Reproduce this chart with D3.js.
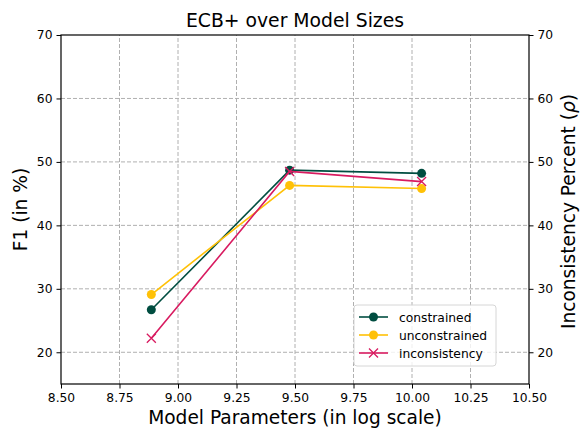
<!DOCTYPE html>
<html>
<head>
  <script src="https://d3js.org/d3.v7.min.js"></script>
  <style>
    body { margin: 0; background: #fff; }
    text { font-family: "DejaVu Sans", sans-serif; }
  </style>
</head>
<body>
  <svg id="chart" width="580" height="429"></svg>
  <script>
    // model sizes (log10 of parameter count)
    const modelSizes = [8.886, 9.477, 10.041];
    const constrained = [26.7, 48.7, 48.2];
    const unconstrained = [29.1, 46.3, 45.8];
    const inconsistency = [22.2, 48.5, 46.9];
    const xTicks = [8.5, 8.75, 9.0, 9.25, 9.5, 9.75, 10.0, 10.25, 10.5];
    const yTicks = [20, 30, 40, 50, 60, 70];

    const margin = {left: 61, right: 51, top: 35, bottom: 45};
    const width = 580, height = 429;
    const svg = d3.select("#chart");

    const x = d3.scaleLinear().domain([8.5, 10.5]).range([margin.left, width - margin.right]);
    const y = d3.scaleLinear().domain([15, 70]).range([height - margin.bottom, margin.top]);
    const y2 = d3.scaleLinear().domain([15, 70]).range([height - margin.bottom, margin.top]);

    // grid
    const grid = svg.append("g").attr("stroke", "#b0b0b0").attr("stroke-width", 1)
      .attr("stroke-dasharray", "4,2");
    grid.selectAll(".gx").data(xTicks.slice(1, -1)).join("line")
      .attr("x1", d => x(d)).attr("x2", d => x(d))
      .attr("y1", y(15)).attr("y2", y(70));
    grid.selectAll(".gy").data(yTicks.slice(0, -1)).join("line")
      .attr("y1", d => y(d)).attr("y2", d => y(d))
      .attr("x1", x(8.5)).attr("x2", x(10.5));

    // axes
    const fmtX = d3.format(".2f");
    svg.append("g").attr("transform", `translate(0,${y(15)})`)
      .call(d3.axisBottom(x).tickValues(xTicks).tickFormat(fmtX).tickSize(4.5).tickPadding(4.5))
      .call(g => g.select(".domain").remove());
    svg.append("g").attr("transform", `translate(${x(8.5)},0)`)
      .call(d3.axisLeft(y).tickValues(yTicks).tickSize(4.5).tickPadding(4))
      .call(g => g.select(".domain").remove());
    svg.append("g").attr("transform", `translate(${x(10.5)},0)`)
      .call(d3.axisRight(y2).tickValues(yTicks).tickSize(4.5).tickPadding(4))
      .call(g => g.select(".domain").remove());
    svg.selectAll(".tick text").attr("font-size", 12.3).attr("fill", "#000")
      .attr("font-family", "DejaVu Sans");
    svg.selectAll(".tick line").attr("stroke", "#000").attr("stroke-width", 1);

    // frame
    svg.append("rect").attr("x", x(8.5)).attr("y", y(70))
      .attr("width", x(10.5) - x(8.5)).attr("height", y(15) - y(70))
      .attr("fill", "none").attr("stroke", "#000").attr("stroke-width", 1.2);

    const series = [
      {name: "constrained", values: constrained, color: "#004D40", marker: "circle", scale: y},
      {name: "unconstrained", values: unconstrained, color: "#FFC107", marker: "circle", scale: y},
      {name: "inconsistency", values: inconsistency, color: "#D81B60", marker: "x", scale: y2}
    ];

    function drawMarker(g, m, color) {
      if (m === "circle") {
        g.append("circle").attr("r", 4.5).attr("fill", color);
      } else {
        g.append("path").attr("d", "M-4.5,-4.5L4.5,4.5M-4.5,4.5L4.5,-4.5")
          .attr("stroke", color).attr("stroke-width", 1.3).attr("fill", "none");
      }
    }

    const line = sc => d3.line().x((d, i) => x(modelSizes[i])).y(d => sc(d));
    series.forEach(s => {
      svg.append("path").datum(s.values)
        .attr("d", line(s.scale)).attr("fill", "none")
        .attr("stroke", s.color).attr("stroke-width", 1.6);
      s.values.forEach((v, i) => {
        const g = svg.append("g").attr("transform", `translate(${x(modelSizes[i])},${s.scale(v)})`);
        drawMarker(g, s.marker, s.color);
      });
    });

    // legend
    const lg = svg.append("g").attr("transform", "translate(354,305)");
    lg.append("rect").attr("width", 142).attr("height", 61).attr("rx", 3)
      .attr("fill", "#fff").attr("fill-opacity", 0.8).attr("stroke", "#d6d6d6");
    series.forEach((s, i) => {
      const row = lg.append("g").attr("transform", `translate(0,${12 + i * 18})`);
      row.append("line").attr("x1", 5).attr("x2", 34).attr("stroke", s.color).attr("stroke-width", 1.6);
      const mg = row.append("g").attr("transform", "translate(19.5,0)");
      drawMarker(mg, s.marker, s.color);
      row.append("text").attr("x", 45).attr("y", 4.5).attr("font-size", 12.3).text(s.name);
    });

    // titles
    svg.append("text").attr("x", (x(8.5) + x(10.5)) / 2).attr("y", 27)
      .attr("text-anchor", "middle").attr("font-size", 18.8).text("ECB+ over Model Sizes");
    svg.append("text").attr("x", (x(8.5) + x(10.5)) / 2).attr("y", 424)
      .attr("text-anchor", "middle").attr("font-size", 18.6).text("Model Parameters (in log scale)");
    svg.append("text").attr("transform", `translate(27,${(y(15) + y(70)) / 2}) rotate(-90)`)
      .attr("text-anchor", "middle").attr("font-size", 18.6).text("F1 (in %)");
    const rt = svg.append("text").attr("transform", `translate(575,${(y(15) + y(70)) / 2 + 2}) rotate(-90)`)
      .attr("text-anchor", "middle").attr("font-size", 18.6);
    rt.append("tspan").text("Inconsistency Percent (");
    rt.append("tspan").attr("font-style", "italic").text("ρ");
    rt.append("tspan").text(")");
  </script>
</body>
</html>
